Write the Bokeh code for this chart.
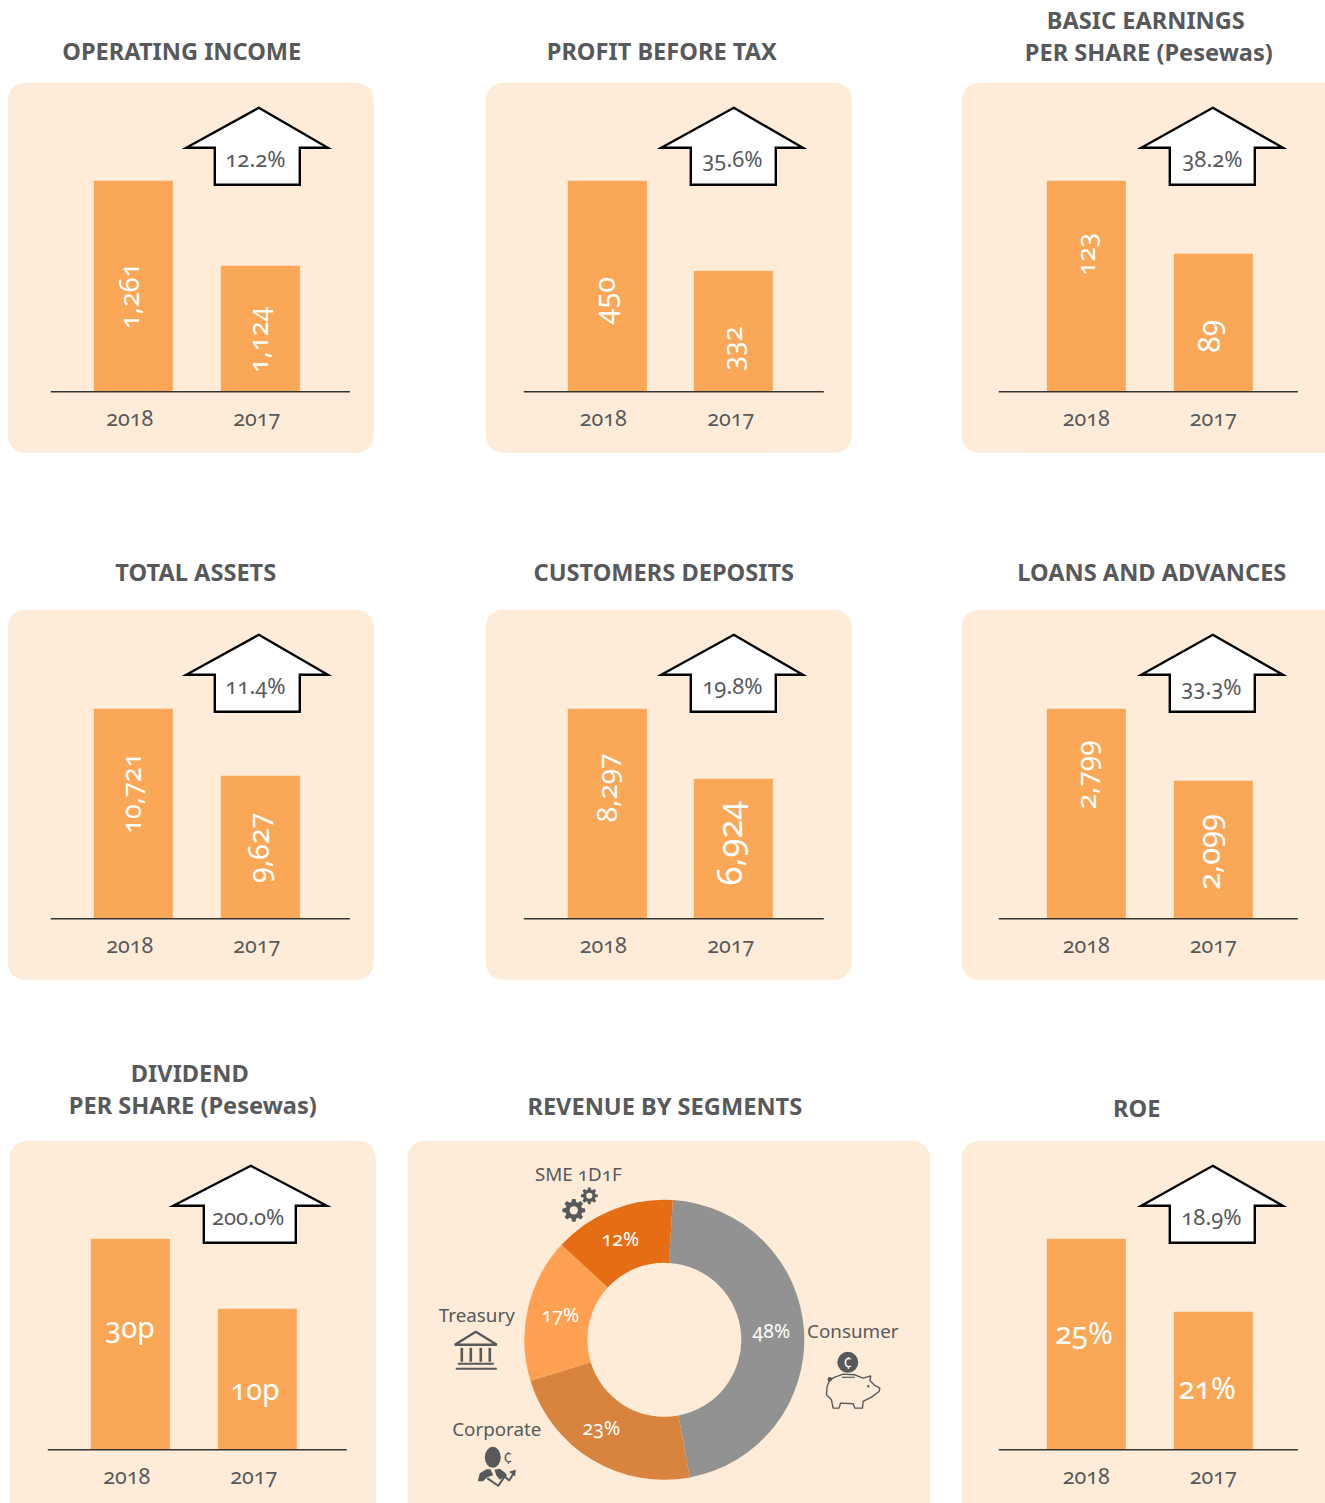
from math import pi, cos, sin, radians
from bokeh.plotting import figure
from bokeh.models import Range1d
from bokeh.core.properties import value
from bokeh.embed import file_html
from bokeh.resources import INLINE

# ---- data ----
panel_titles = ["OPERATING INCOME", "PROFIT BEFORE TAX", "BASIC EARNINGS\nPER SHARE (Pesewas)",
                "TOTAL ASSETS", "CUSTOMERS DEPOSITS", "LOANS AND ADVANCES",
                "DIVIDEND\nPER SHARE (Pesewas)", "ROE"]
years = ["2018", "2017"]
values_2018 = [1261, 450, 123, 10721, 8297, 2799, 30, 25]
values_2017 = [1124, 332, 89, 9627, 6924, 2099, 10, 21]
labels_2018 = ["1,261", "450", "123", "10,721", "8,297", "2,799", "30p", "25%"]
labels_2017 = ["1,124", "332", "89", "9,627", "6,924", "2,099", "10p", "21%"]
growth = ["12.2%", "35.6%", "38.2%", "11.4%", "19.8%", "33.3%", "200.0%", "18.9%"]
# the value axes of the panels are truncated: value at the baseline, pixels per unit
axis_floor = [920.9, 173.4, 24.7, 7292, 4178, 757, -30.3, 13.44]
px_per_unit = [0.6204, 0.7627, 2.147, 0.06124, 0.05098, 0.10286, 3.5, 18.25]

segments = ["Consumer", "Corporate", "Treasury", "SME 1D1F"]
segment_labels = ["48%", "23%", "17%", "12%"]
segment_arcs = [46.1, 23.2, 16.6, 14.1]   # share of the ring as drawn in the picture
segment_colors = ["#929292", "#d8843f", "#ffa052", "#e56e14"]

# ---- style and layout ----
INK = "#58595b"; BAR = "#faa857"; PANEL = "#feecd9"
TF = value("Noto Sans")

W, H = 1325, 1503
SHIFT = 0.7
p = figure(width=W, height=H, x_range=Range1d(SHIFT, W + SHIFT), y_range=Range1d(H + SHIFT, SHIFT),
           toolbar_location=None, output_backend="svg", min_border=0,
           x_axis_location=None, y_axis_location=None, outline_line_color=None,
           background_fill_color="white", border_fill_color="white",
           styles={"font-feature-settings": '"onum"'})
p.grid.visible = False


def rounded(x0, y0, x1, y1, r=17, n=8):
    xs, ys = [], []
    for cx, cy, a0 in ((x1 - r, y0 + r, -90), (x1 - r, y1 - r, 0), (x0 + r, y1 - r, 90), (x0 + r, y0 + r, 180)):
        for i in range(n + 1):
            a = radians(a0 + 90 * i / n)
            xs.append(cx + r * cos(a)); ys.append(cy + r * sin(a))
    return xs, ys


def label(x, y, text, size, color=INK, bold=False, angle=0):
    # the middle baseline sits a little below the optical centre of the glyphs
    if angle:
        x -= 2.5
    y -= 1.3
    p.text([x], [y], text=[text], text_font=TF, text_font_size=f"{size}px", text_color=color,
           text_font_style="bold" if bold else "normal", text_align="center",
           text_baseline="middle", angle=angle)


# panel geometry: left edge of the panel, top of the panel, offsets to the bars, arrow
geo = [
    dict(px=8, py=83, bx=(133.5, 260.5), yx=(131, 258), line=(51, 350), base=392, bottom=453, right=374, arrow=(259, 108, 185, 330, 215, 300), pct=(256.5, 159)),
    dict(px=486, py=83, bx=(607.5, 733.5), yx=(604.5, 732), line=(524, 824), base=392, bottom=453, right=852, arrow=(734, 108, 660, 805, 691, 776), pct=(733.5, 159)),
    dict(px=962, py=83, bx=(1086.5, 1213.5), yx=(1087.5, 1214.5), line=(999, 1298), base=392, bottom=453, right=1345, arrow=(1213, 108, 1140, 1285, 1170, 1255), pct=(1213.5, 159)),
    dict(px=8, py=610, bx=(133.5, 260.5), yx=(131, 258), line=(51, 350), base=919, bottom=980, right=374, arrow=(259, 635, 185, 330, 215, 300), pct=(256.5, 686)),
    dict(px=486, py=610, bx=(607.5, 733.5), yx=(604.5, 732), line=(524, 824), base=919, bottom=980, right=852, arrow=(734, 635, 660, 805, 691, 776), pct=(733.5, 686)),
    dict(px=962, py=610, bx=(1086.5, 1213.5), yx=(1087.5, 1214.5), line=(999, 1298), base=919, bottom=980, right=1345, arrow=(1213, 635, 1140, 1285, 1170, 1255), pct=(1212.5, 687)),
    dict(px=10, py=1141, bx=(130.5, 257.5), yx=(128, 255), line=(48, 347), base=1450, bottom=1530, right=376, arrow=(251, 1166, 172, 329, 204, 296), pct=(249.5, 1217)),
    dict(px=962, py=1141, bx=(1086.5, 1213.5), yx=(1087.5, 1214.5), line=(999, 1298), base=1450, bottom=1530, right=1345, arrow=(1213, 1166, 1140, 1285, 1170, 1255), pct=(1212.5, 1217)),
]
title_pos = [[(182, 52)], [(662, 52)], [(1146, 21), (1149, 53)], [(196, 573)], [(664, 573)], [(1152, 573)],
             [(190, 1074), (193, 1106)], [(1137, 1109)]]
label_pos = [
    ((132, 296, 27), (261, 340, 27)), ((607, 301, 29), (735, 349, 27)), ((1089, 255, 26), (1212, 337, 30)),
    ((134, 793, 27), (261, 848, 28.5)), ((610, 788, 28), (732, 843, 34.5)), ((1089, 775, 28), (1212, 852, 31)),
    ((131, 1328, 29), (256, 1390, 29)), ((1085, 1334, 30), (1208, 1389, 30)),
]

for i, g in enumerate(geo):
    xs, ys = rounded(g["px"], g["py"], g["right"], g["bottom"])
    p.patch(xs, ys, fill_color=PANEL, line_color=None)

    rng = f"v{i}"
    f, s = axis_floor[i], px_per_unit[i]
    p.extra_y_ranges[rng] = Range1d(start=f + (g["base"] - H - SHIFT) / s, end=f + (g["base"] - SHIFT) / s)
    p.vbar(x=list(g["bx"]), top=[values_2018[i], values_2017[i]], bottom=f, width=79,
           fill_color=BAR, line_color=None, y_range_name=rng)
    p.segment([g["line"][0]], [g["base"]], [g["line"][1]], [g["base"]], line_color="#333333", line_width=1.6)

    tx, ty, wl, wr, sl, sr = g["arrow"]
    wl, wr = wl + 1.5, wr - 2
    ax = [tx, wr, sr, sr, sl, sl, wl]
    ay = [ty, ty + 40, ty + 40, ty + 77, ty + 77, ty + 40, ty + 40]
    p.patch(ax, ay, fill_color="white", line_color="black", line_width=2.4, line_join="miter")
    label(g["pct"][0], g["pct"][1], growth[i], 22)

    label(g["yx"][0], g["base"] + 27, years[0], 21.5)
    label(g["yx"][1], g["base"] + 27, years[1], 21.5)

    rot = i < 6
    for txt, (lx_, ly_, sz) in zip((labels_2018[i], labels_2017[i]), label_pos[i]):
        label(lx_, ly_, txt, sz, color="white", angle=pi / 2 if rot else 0)

    for line, (tx0, ty0) in zip(panel_titles[i].split("\n"), title_pos[i]):
        label(tx0, ty0, line, 23.6, bold=True)

# ---- revenue panel ----
xs, ys = rounded(408, 1141, 930, 1530)
p.patch(xs, ys, fill_color=PANEL, line_color=None)
label(665, 1107, "REVENUE BY SEGMENTS", 23.6, bold=True)

start = 3.5
for arc, col in zip(segment_arcs, segment_colors):
    end = start + arc * 3.6
    p.annular_wedge([664.5], [1340], inner_radius=77, outer_radius=140,
                    start_angle=radians(90 - end), end_angle=radians(90 - start),
                    fill_color=col, line_color=None)
    start = end

for txt, (x, y) in zip(segment_labels, [(772, 1332), (602, 1429), (561, 1316), (621, 1240)]):
    label(x, y, txt, 19.5, color="white")
for txt, (x, y) in zip(segments, [(853, 1332), (497, 1430), (477, 1316), (579, 1175)]):
    label(x, y, txt, 18.8)


# ---- icons ----
def gear(cx, cy, r, teeth=8):
    gx, gy = [], []
    for k in range(teeth):
        a = 2 * pi * k / teeth
        w = pi / teeth * 0.55
        for da, rr in ((-w * 1.3, r * 0.74), (-w * 0.7, r), (w * 0.7, r), (w * 1.3, r * 0.74)):
            gx.append(cx + rr * cos(a + da)); gy.append(cy + rr * sin(a + da))
    p.patch(gx, gy, fill_color=INK, line_color=None)
    p.circle([cx], [cy], radius=r * 0.36, fill_color=PANEL, line_color=None)


gear(574, 1210.5, 11.5)
gear(589.5, 1196, 8.5)

# bank
p.patch([476, 497, 455], [1332, 1345, 1345], fill_color=PANEL, line_color=INK, line_width=2.4)
for cx in (462, 471, 481, 490):
    p.segment([cx], [1348], [cx], [1362], line_color=INK, line_width=2.6)
p.segment([458], [1364], [494], [1364], line_color=INK, line_width=2)
p.segment([456], [1369], [497], [1369], line_color=INK, line_width=2)


# corporate person (drawn in a small local grid, 3 units to a pixel)
def lx(v, o=450): return [o + a / 3 for a in v]
def ly(v, o=1420): return [o + a / 3 for a in v]


p.ellipse([493], [1457.5], width=16, height=21, fill_color=INK, line_color=None)
p.patch(lx([85, 90, 110, 122, 130, 112, 100, 100, 85]), ly([178, 160, 148, 148, 166, 172, 184, 184, 184]), fill_color=INK, line_color=None)
p.patch(lx([134, 150, 165, 172, 150, 140]), ly([150, 147, 158, 166, 180, 168]), fill_color=INK, line_color=None)
p.line(lx([112, 145, 165, 178, 193]), ly([175, 198, 170, 182, 158]), line_color=INK, line_width=2)
p.patch(lx([178, 198, 196]), ly([156, 150, 170]), fill_color=INK, line_color=None)
label(508, 1459, "¢", 17)

# piggy bank
p.line(lx([60, 52, 50, 65, 70, 88, 92, 130, 135, 158, 160, 185, 208, 210, 195, 180, 183, 160, 135, 100, 75, 60], 810),
       ly([180, 200, 225, 240, 265, 265, 250, 252, 265, 265, 245, 232, 215, 205, 197, 182, 168, 175, 165, 163, 172, 180], 1320),
       line_color=INK, line_width=1.4)
p.segment([842], [1377.5], [855], [1377.5], line_color=INK, line_width=1.2)
p.circle([848], [1362.5], radius=10.5, fill_color=INK, line_color=None)
label(848, 1364, "¢", 16, color="white")
p.circle([868.5], [1386.5], radius=1.2, fill_color=INK, line_color=None)
p.circle([830], [1379.5], radius=2.2, fill_color=INK, line_color=None)

open("out.html", "w").write(file_html(p, INLINE))
